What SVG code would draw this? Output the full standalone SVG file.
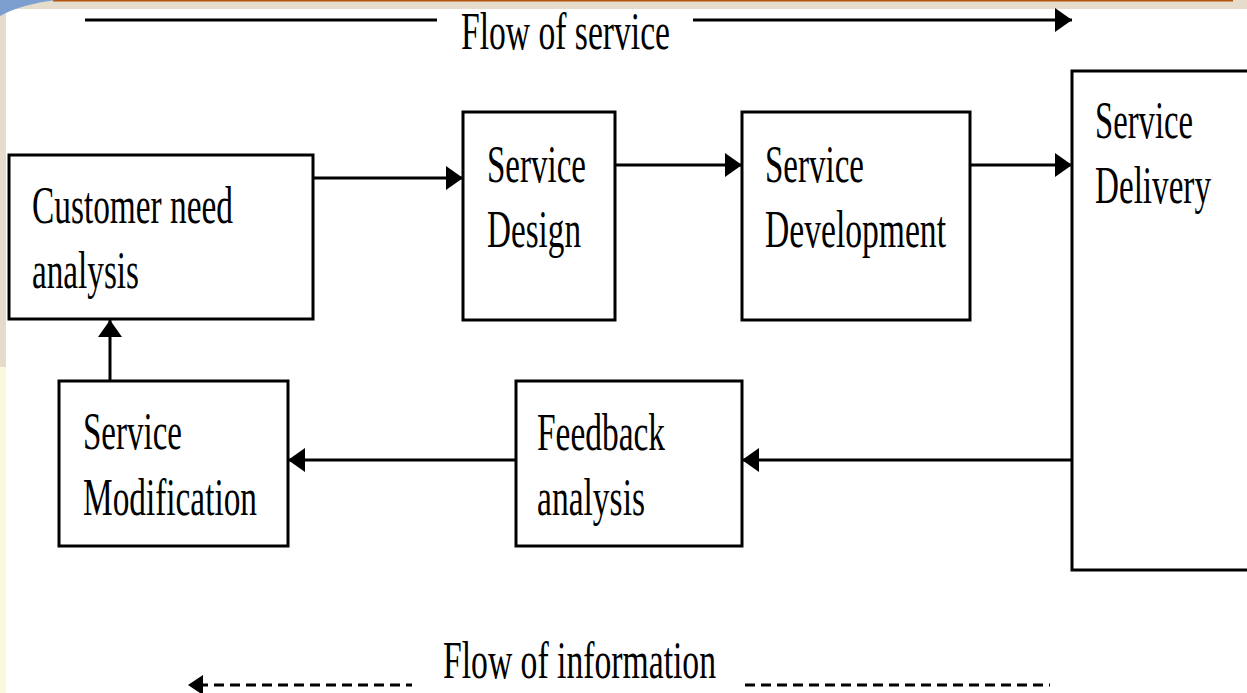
<svg xmlns="http://www.w3.org/2000/svg" width="1247" height="693" viewBox="0 0 1247 693">
<style>
.box{fill:#fff;stroke:#000;stroke-width:3}
.t{font-family:"Liberation Serif","Times New Roman",serif;font-size:52px;fill:#000}
.ln{fill:none;stroke:#000;stroke-width:3}
.dash{fill:none;stroke:#000;stroke-width:3;stroke-dasharray:10 6}
</style>
<defs>
<marker id="ah" markerWidth="17" markerHeight="24" refX="17" refY="12" orient="auto" markerUnits="userSpaceOnUse"><path d="M0,0 L17,12 L0,24 Z" fill="#000"/></marker>
</defs>
<g id="background">
<rect x="0" y="0" width="1247" height="693" fill="#fff"/>
<rect x="0" y="0" width="1247" height="9" fill="#e6dccc"/>
<rect x="0" y="0" width="6" height="367" fill="#e6dccc"/>
<rect x="0" y="367" width="6" height="326" fill="#fcf8de"/>
<rect x="53" y="0" width="1180" height="1.5" fill="#b4520f"/>
<path d="M0,0 L56,0 Q22,4 0,16 Z" fill="#7c9fd0"/>
</g>
<g id="connectors">
<line class="ln" x1="85" y1="20" x2="437" y2="20"/>
<line class="ln" x1="693" y1="20" x2="1072" y2="20" marker-end="url(#ah)"/>
<line class="ln" x1="313" y1="178" x2="463" y2="178" marker-end="url(#ah)"/>
<line class="ln" x1="615" y1="165" x2="742" y2="165" marker-end="url(#ah)"/>
<line class="ln" x1="970" y1="165" x2="1072" y2="165" marker-end="url(#ah)"/>
<line class="ln" x1="1072" y1="460" x2="742" y2="460" marker-end="url(#ah)"/>
<line class="ln" x1="516" y1="460" x2="288" y2="460" marker-end="url(#ah)"/>
<line class="ln" x1="110" y1="381" x2="110" y2="320" marker-end="url(#ah)"/>
<line class="dash" x1="198" y1="685" x2="412" y2="685"/>
<path d="M188,685 L203,675 L203,695 Z" fill="#000"/>
<line class="dash" x1="745" y1="685" x2="1050" y2="685"/>
</g>
<g id="label-flow-service"><text class="t" x="461" y="49" textLength="209" lengthAdjust="spacingAndGlyphs">Flow of service</text></g>
<g id="label-flow-information"><text class="t" x="443" y="678" textLength="273" lengthAdjust="spacingAndGlyphs">Flow of information</text></g>
<g id="node-customer">
<rect class="box" x="9" y="155" width="304" height="164"/>
<text class="t" x="32" y="223" textLength="201" lengthAdjust="spacingAndGlyphs">Customer need</text>
<text class="t" x="32" y="288" textLength="107" lengthAdjust="spacingAndGlyphs">analysis</text>
</g>
<g id="node-design">
<rect class="box" x="463" y="112" width="152" height="208"/>
<text class="t" x="487" y="182" textLength="99" lengthAdjust="spacingAndGlyphs">Service</text>
<text class="t" x="487" y="247" textLength="94" lengthAdjust="spacingAndGlyphs">Design</text>
</g>
<g id="node-development">
<rect class="box" x="742" y="112" width="228" height="208"/>
<text class="t" x="765" y="182" textLength="99" lengthAdjust="spacingAndGlyphs">Service</text>
<text class="t" x="765" y="247" textLength="181" lengthAdjust="spacingAndGlyphs">Development</text>
</g>
<g id="node-delivery">
<rect class="box" x="1072" y="71" width="177" height="499"/>
<text class="t" x="1095" y="138" textLength="98" lengthAdjust="spacingAndGlyphs">Service</text>
<text class="t" x="1095" y="203" textLength="116" lengthAdjust="spacingAndGlyphs">Delivery</text>
</g>
<g id="node-feedback">
<rect class="box" x="516" y="381" width="226" height="165"/>
<text class="t" x="537" y="450" textLength="128" lengthAdjust="spacingAndGlyphs">Feedback</text>
<text class="t" x="537" y="515" textLength="108" lengthAdjust="spacingAndGlyphs">analysis</text>
</g>
<g id="node-modification">
<rect class="box" x="59" y="381" width="229" height="165"/>
<text class="t" x="83" y="449" textLength="99" lengthAdjust="spacingAndGlyphs">Service</text>
<text class="t" x="83" y="515" textLength="174" lengthAdjust="spacingAndGlyphs">Modification</text>
</g>
</svg>
